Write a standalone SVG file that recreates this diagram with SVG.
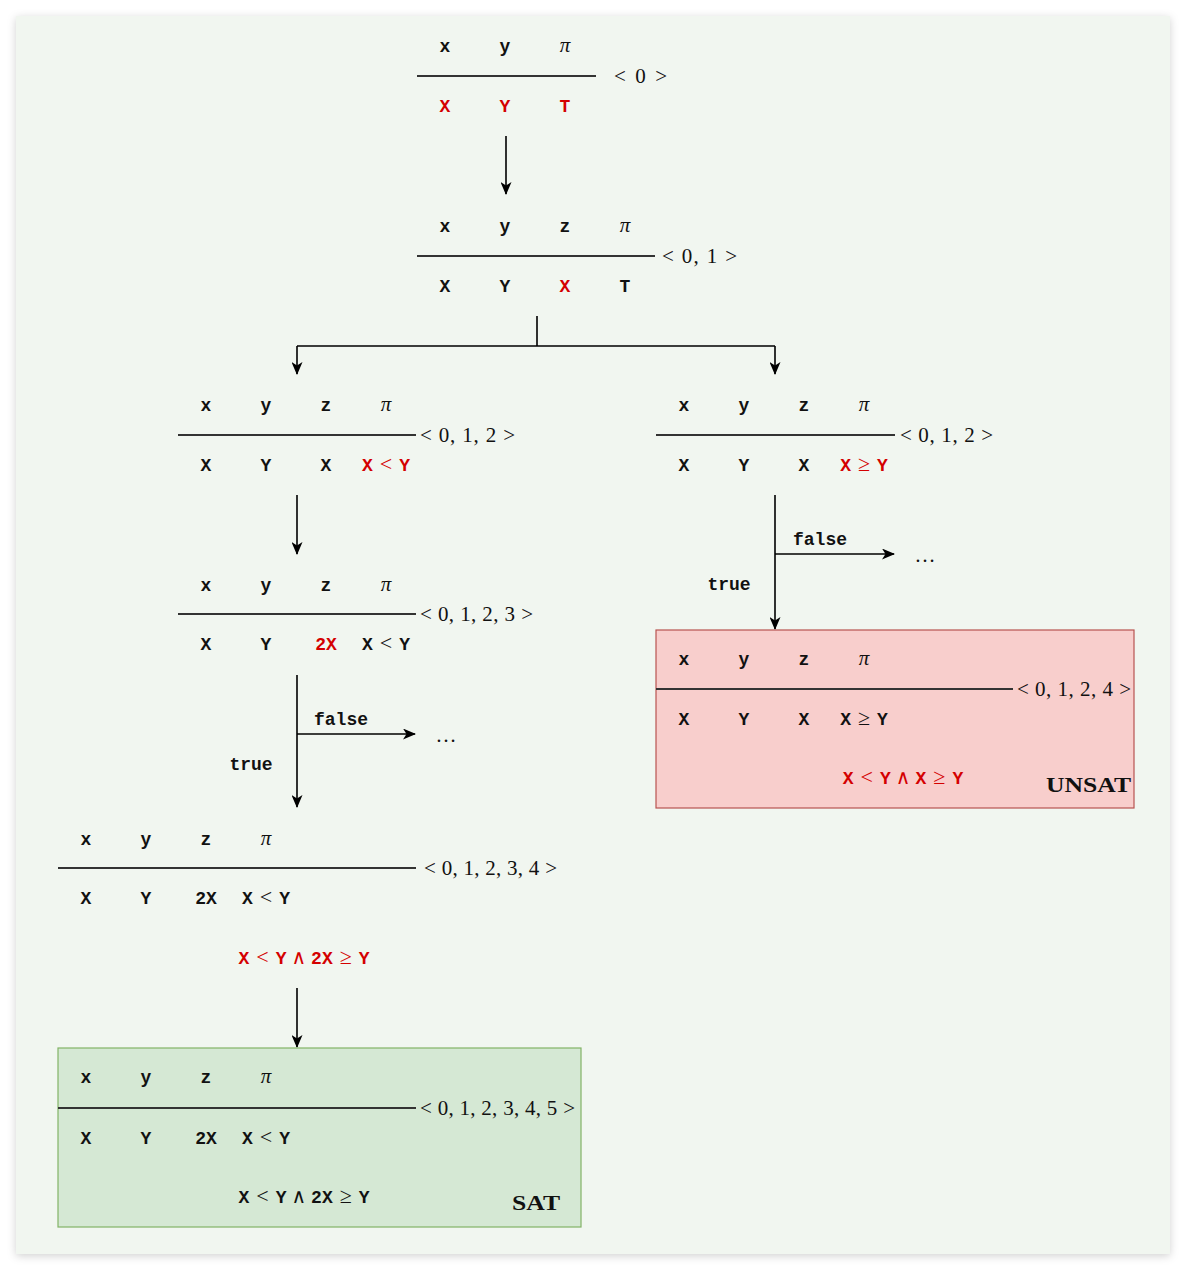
<svg xmlns="http://www.w3.org/2000/svg" width="1186" height="1270" viewBox="0 0 1186 1270">
<defs>
<filter id="sh" x="-5%" y="-5%" width="110%" height="110%"><feDropShadow dx="0" dy="2" stdDeviation="4" flood-color="#000" flood-opacity="0.18"/></filter>
<marker id="ah" markerWidth="13" markerHeight="11" refX="12" refY="5.5" orient="auto" markerUnits="userSpaceOnUse"><path d="M0,0 L13,5.5 L0,11 L3.5,5.5 Z" fill="#000"/></marker>
<style>
.h{font-family:"Liberation Mono",monospace;font-weight:bold;font-size:18px;text-anchor:middle;fill:#111}
.pi{font-family:"Liberation Serif",serif;font-style:italic;font-weight:normal;font-size:21px}
.op{font-family:"Liberation Serif",serif;font-weight:normal;font-size:22px}
.and{font-family:"DejaVu Serif",serif;font-weight:normal;font-size:20px}
.lab{font-family:"Liberation Serif",serif;font-size:21px;fill:#111}
.red{fill:#d40000}
.sep{stroke:#333;stroke-width:2}
.c{stroke:#000;stroke-width:1.6;fill:none}
.bold{font-family:"Liberation Serif",serif;font-weight:bold;font-size:22px;fill:#111}
</style>
</defs>
<rect x="0" y="0" width="1186" height="1270" fill="#fff"/>
<rect x="16" y="16" width="1154" height="1238" fill="#f1f6f0" filter="url(#sh)"/>

<g id="connectors">
<path class="c" d="M506,136 V194" marker-end="url(#ah)"/>
<path class="c" d="M537,316 V346 M297,346 H775"/>
<path class="c" d="M297,346 V374" marker-end="url(#ah)"/>
<path class="c" d="M775,346 V374" marker-end="url(#ah)"/>
<path class="c" d="M297,495 V554" marker-end="url(#ah)"/>
<path class="c" d="M297,675 V807" marker-end="url(#ah)"/>
<path class="c" d="M297,734 H415" marker-end="url(#ah)"/>
<path class="c" d="M775,495 V629" marker-end="url(#ah)"/>
<path class="c" d="M775,554 H894" marker-end="url(#ah)"/>
<path class="c" d="M297,988 V1047" marker-end="url(#ah)"/>
<text class="h" x="341" y="725">false</text>
<text class="h" x="251" y="770">true</text>
<text class="lab" x="446" y="742" text-anchor="middle">…</text>
<text class="h" x="820" y="545">false</text>
<text class="h" x="729" y="590">true</text>
<text class="lab" x="925" y="562" text-anchor="middle">…</text>
</g>

<g id="node1">
<text class="h" x="445" y="52">x</text><text class="h" x="505" y="52">y</text><text class="h" x="565" y="52"><tspan class="pi">π</tspan></text>
<line class="sep" x1="417" y1="76" x2="596" y2="76"/>
<text class="lab" x="614" y="83" textLength="53" lengthAdjust="spacing">&lt; 0 &gt;</text>
<text class="h red" x="445" y="112">X</text><text class="h red" x="505" y="112">Y</text><text class="h red" x="565" y="112">T</text>
</g>

<g id="node2">
<text class="h" x="445" y="232">x</text><text class="h" x="505" y="232">y</text><text class="h" x="565" y="232">z</text><text class="h" x="625" y="232"><tspan class="pi">π</tspan></text>
<line class="sep" x1="417" y1="256" x2="655" y2="256"/>
<text class="lab" x="662" y="263" textLength="75" lengthAdjust="spacing">&lt; 0, 1 &gt;</text>
<text class="h" x="445" y="292">X</text><text class="h" x="505" y="292">Y</text><text class="h red" x="565" y="292">X</text><text class="h" x="625" y="292">T</text>
</g>

<g id="node3L">
<text class="h" x="206" y="411">x</text><text class="h" x="266" y="411">y</text><text class="h" x="326" y="411">z</text><text class="h" x="386" y="411"><tspan class="pi">π</tspan></text>
<line class="sep" x1="178" y1="435" x2="416" y2="435"/>
<text class="lab" x="420" y="442" textLength="95" lengthAdjust="spacing">&lt; 0, 1, 2 &gt;</text>
<text class="h" x="206" y="471">X</text><text class="h" x="266" y="471">Y</text><text class="h" x="326" y="471">X</text>
<text class="h red" x="386" y="471">X<tspan class="op" dx="7">&lt;</tspan><tspan dx="7">Y</tspan></text>
</g>

<g id="node3R">
<text class="h" x="684" y="411">x</text><text class="h" x="744" y="411">y</text><text class="h" x="804" y="411">z</text><text class="h" x="864" y="411"><tspan class="pi">π</tspan></text>
<line class="sep" x1="656" y1="435" x2="895" y2="435"/>
<text class="lab" x="900" y="442" textLength="93" lengthAdjust="spacing">&lt; 0, 1, 2 &gt;</text>
<text class="h" x="684" y="471">X</text><text class="h" x="744" y="471">Y</text><text class="h" x="804" y="471">X</text>
<text class="h red" x="864" y="471">X<tspan class="op" dx="7">≥</tspan><tspan dx="7">Y</tspan></text>
</g>

<g id="node4L">
<text class="h" x="206" y="591">x</text><text class="h" x="266" y="591">y</text><text class="h" x="326" y="591">z</text><text class="h" x="386" y="591"><tspan class="pi">π</tspan></text>
<line class="sep" x1="178" y1="614" x2="416" y2="614"/>
<text class="lab" x="420" y="621" textLength="113" lengthAdjust="spacing">&lt; 0, 1, 2, 3 &gt;</text>
<text class="h" x="206" y="650">X</text><text class="h" x="266" y="650">Y</text><text class="h red" x="326" y="650">2X</text>
<text class="h" x="386" y="650">X<tspan class="op" dx="7">&lt;</tspan><tspan dx="7">Y</tspan></text>
</g>

<g id="unsat">
<rect x="656" y="630" width="478" height="178" fill="#f8cecc" stroke="#b85450" stroke-width="1.2"/>
<text class="h" x="684" y="665">x</text><text class="h" x="744" y="665">y</text><text class="h" x="804" y="665">z</text><text class="h" x="864" y="665"><tspan class="pi">π</tspan></text>
<line class="sep" x1="656" y1="689" x2="1013" y2="689"/>
<text class="lab" x="1017" y="696" textLength="114" lengthAdjust="spacing">&lt; 0, 1, 2, 4 &gt;</text>
<text class="h" x="684" y="725">X</text><text class="h" x="744" y="725">Y</text><text class="h" x="804" y="725">X</text>
<text class="h" x="864" y="725">X<tspan class="op" dx="7">≥</tspan><tspan dx="7">Y</tspan></text>
<text class="h red" x="903" y="784">X<tspan class="op" dx="7">&lt;</tspan><tspan dx="7">Y</tspan><tspan class="and" dx="5">∧</tspan><tspan dx="5">X</tspan><tspan class="op" dx="7">≥</tspan><tspan dx="7">Y</tspan></text>
<text class="bold" x="1046" y="792" textLength="85" lengthAdjust="spacingAndGlyphs">UNSAT</text>
</g>

<g id="node5L">
<text class="h" x="86" y="845">x</text><text class="h" x="146" y="845">y</text><text class="h" x="206" y="845">z</text><text class="h" x="266" y="845"><tspan class="pi">π</tspan></text>
<line class="sep" x1="58" y1="868" x2="416" y2="868"/>
<text class="lab" x="424" y="875" textLength="133" lengthAdjust="spacing">&lt; 0, 1, 2, 3, 4 &gt;</text>
<text class="h" x="86" y="904">X</text><text class="h" x="146" y="904">Y</text><text class="h" x="206" y="904">2X</text>
<text class="h" x="266" y="904">X<tspan class="op" dx="7">&lt;</tspan><tspan dx="7">Y</tspan></text>
<text class="h red" x="304" y="964">X<tspan class="op" dx="7">&lt;</tspan><tspan dx="7">Y</tspan><tspan class="and" dx="5">∧</tspan><tspan dx="5">2X</tspan><tspan class="op" dx="7">≥</tspan><tspan dx="7">Y</tspan></text>
</g>

<g id="sat">
<rect x="58" y="1048" width="523" height="179" fill="#d5e8d4" stroke="#82b366" stroke-width="1.2"/>
<text class="h" x="86" y="1083">x</text><text class="h" x="146" y="1083">y</text><text class="h" x="206" y="1083">z</text><text class="h" x="266" y="1083"><tspan class="pi">π</tspan></text>
<line class="sep" x1="58" y1="1108" x2="416" y2="1108"/>
<text class="lab" x="420" y="1115" textLength="155" lengthAdjust="spacing">&lt; 0, 1, 2, 3, 4, 5 &gt;</text>
<text class="h" x="86" y="1144">X</text><text class="h" x="146" y="1144">Y</text><text class="h" x="206" y="1144">2X</text>
<text class="h" x="266" y="1144">X<tspan class="op" dx="7">&lt;</tspan><tspan dx="7">Y</tspan></text>
<text class="h" x="304" y="1203">X<tspan class="op" dx="7">&lt;</tspan><tspan dx="7">Y</tspan><tspan class="and" dx="5">∧</tspan><tspan dx="5">2X</tspan><tspan class="op" dx="7">≥</tspan><tspan dx="7">Y</tspan></text>
<text class="bold" x="512" y="1210" textLength="48" lengthAdjust="spacingAndGlyphs">SAT</text>
</g>
</svg>
